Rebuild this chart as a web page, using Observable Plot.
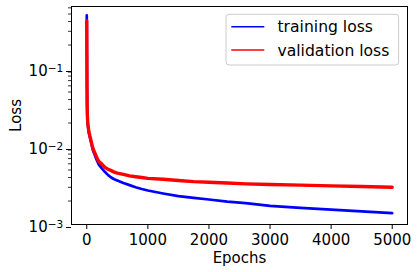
<!DOCTYPE html>
<html>
<head>
<meta charset="utf-8">
<script src="https://cdn.jsdelivr.net/npm/d3@7"></script>
<script src="https://cdn.jsdelivr.net/npm/@observablehq/plot@0.6"></script>
<style>
  html, body { margin: 0; padding: 0; background: #fff; }
  #chart { width: 418px; height: 272px; }
</style>
</head>
<body>
<div id="chart"></div>
<script>
// ---- data ----
const epochs = [0, 2, 4, 6, 8, 10, 15, 20, 30, 40, 50, 60, 80, 100, 125, 150, 175, 200, 250, 300, 350, 400, 450, 500, 600, 700, 800, 900, 1000, 1250, 1500, 1750, 2000, 2300, 2600, 3000, 3500, 4000, 4500, 4999];
const trainingLoss = [0.48, 0.15, 0.06, 0.035, 0.027, 0.023, 0.020, 0.018, 0.0155, 0.0143, 0.0132, 0.0123, 0.0105, 0.0090, 0.0080, 0.0071, 0.0064, 0.0058, 0.0052, 0.0047, 0.0043, 0.0040, 0.0038, 0.00366, 0.0034, 0.0032, 0.0030, 0.00285, 0.00273, 0.0025, 0.00231, 0.0022, 0.00209, 0.00197, 0.00188, 0.00173, 0.00163, 0.00155, 0.00147, 0.0014];
const validationLoss = [0.41, 0.15, 0.06, 0.036, 0.029, 0.025, 0.021, 0.019, 0.0165, 0.015, 0.0138, 0.0128, 0.011, 0.0095, 0.0085, 0.0077, 0.0069, 0.0064, 0.0059, 0.0054, 0.0051, 0.0049, 0.0047, 0.00455, 0.0044, 0.0042, 0.0041, 0.0040, 0.0039, 0.0038, 0.00366, 0.00355, 0.00348, 0.0034, 0.00332, 0.00326, 0.0032, 0.00313, 0.00307, 0.00301];
const seriesNames = ["training loss", "validation loss"];
const seriesColors = ["#0000ff", "#ff0000"];
const xTicks = [0, 1000, 2000, 3000, 4000, 5000];
const yTicks = [0.001, 0.01, 0.1];
const yMinorTicks = [0.002,0.003,0.004,0.005,0.006,0.007,0.008,0.009,
                     0.02,0.03,0.04,0.05,0.06,0.07,0.08,0.09,
                     0.2,0.3,0.4,0.5,0.6];
const xLabel = "Epochs";
const yLabel = "Loss";

const train = epochs.map((e, i) => ({epoch: e, loss: trainingLoss[i], series: seriesNames[0]}));
const valid = epochs.map((e, i) => ({epoch: e, loss: validationLoss[i], series: seriesNames[1]}));

const FS = 15;
const LFS = 15.6;
const mL = 71, mR = 11, mT = 6, mB = 48, W = 418, H = 272;

const plot = Plot.plot({
  width: W, height: H,
  marginLeft: mL, marginRight: mR, marginTop: mT, marginBottom: mB,
  style: {fontFamily: "DejaVu Sans", fontSize: FS + "px", color: "#000", background: "#fff"},
  x: {domain: [-250, 5250]},
  y: {type: "log", domain: [0.001, 0.624]},
  marks: [
    Plot.line(train, {x: "epoch", y: "loss", stroke: seriesColors[0], strokeWidth: 2.7}),
    Plot.line(valid, {x: "epoch", y: "loss", stroke: seriesColors[1], strokeWidth: 3.4}),
    Plot.frame({stroke: "#000", strokeWidth: 1}),
    Plot.axisX({ticks: xTicks, tickSize: 5, tickPadding: 4.5, tickFormat: d => String(d), label: null, stroke: "#000", fill: "#000"}),
    Plot.axisY({ticks: yTicks, tickSize: 5, tickPadding: 3.3, dy: 3,
      tickFormat: d => "10^" + Math.round(Math.log10(d)), label: null, stroke: "#000", fill: "#000"}),
    Plot.axisY({ticks: yMinorTicks, tickSize: 3, tickFormat: () => "", label: null, stroke: "#000", strokeWidth: 0.8}),
    Plot.text([xLabel], {frameAnchor: "bottom", textAnchor: "middle", lineAnchor: "middle", dy: 34, text: d => d, fontSize: FS, fill: "#000"}),
    Plot.text([yLabel], {frameAnchor: "left", textAnchor: "middle", lineAnchor: "middle", rotate: -90, dx: -55, text: d => d, fontSize: FS, fill: "#000"})
  ]
});

document.getElementById("chart").appendChild(plot);

// superscript exponents like matplotlib mathtext
const svg = d3.select(plot);
svg.selectAll('g[aria-label="y-axis tick label"] text').each(function() {
  const t = d3.select(this);
  const s = t.text();
  const m = s.match(/^10\^(-?\d+)$/);
  if (!m) return;
  t.text("");
  t.append("tspan").text("10");
  t.append("tspan").attr("dy", "-0.42em").attr("font-size", "10.5px")
    .text(m[1].replace("-", "\u2212"));
});

// legend (inside the axes, upper right)
const frameRight = W - mR, frameTop = mT;
const boxW = 172.6, boxH = 50.7;
const bx = frameRight - 8.4 - boxW, by = frameTop + 8.3;
const lg = svg.append("g").attr("aria-label", "legend");
lg.append("rect").attr("x", bx).attr("y", by).attr("width", boxW).attr("height", boxH)
  .attr("rx", 3).attr("fill", "#fff").attr("fill-opacity", 0.8)
  .attr("stroke", "#cccccc").attr("stroke-width", 1);
seriesNames.forEach((name, i) => {
  const cy = by + 12.4 + i * 23.3;
  lg.append("line").attr("x1", bx + 5.3).attr("x2", bx + 38.3).attr("y1", cy).attr("y2", cy)
    .attr("stroke", seriesColors[i]).attr("stroke-width", 1.6);
  lg.append("text").attr("x", bx + 51.5).attr("y", cy + 5.5)
    .attr("text-anchor", "start")
    .attr("font-family", "DejaVu Sans").attr("font-size", LFS + "px").attr("fill", "#000")
    .text(name);
});
</script>
</body>
</html>
